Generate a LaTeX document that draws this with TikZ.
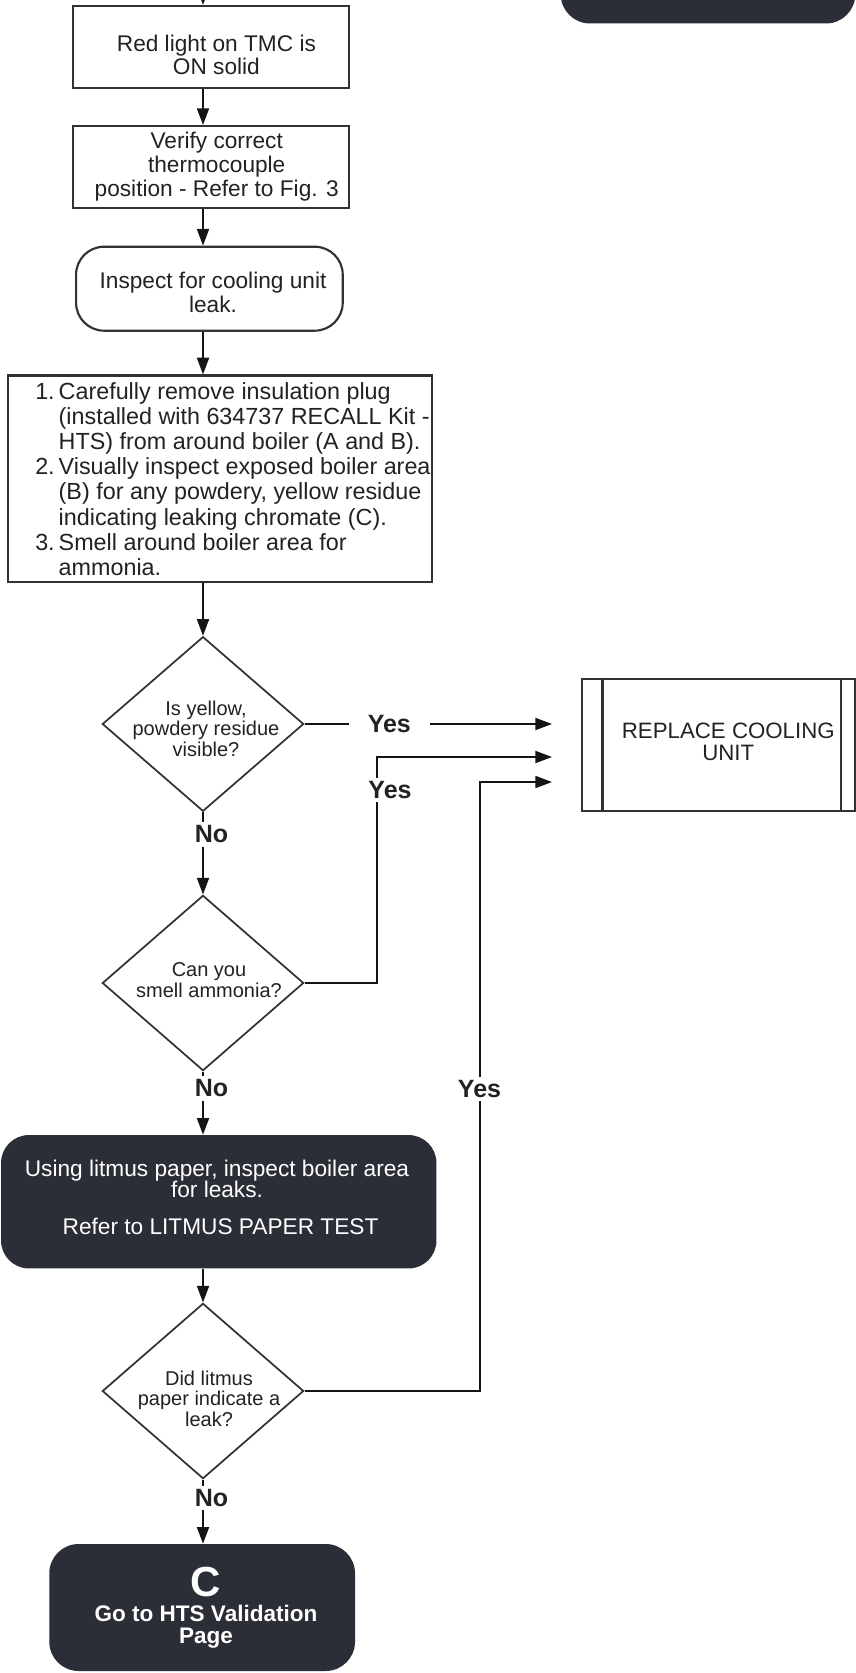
\documentclass[tikz,border=0pt]{standalone}
\usepackage{fontspec}
\setmainfont{Liberation Sans}
\usetikzlibrary{shapes.geometric,arrows.meta}
\definecolor{dkfill}{RGB}{43,46,54}
\definecolor{lncol}{RGB}{20,20,20}
\definecolor{bdcol}{RGB}{50,50,50}
\definecolor{txcol}{RGB}{34,34,34}
\newcommand\mlines[1]{\begin{tabular}[t]{@{}c@{}}#1\end{tabular}}
\begin{document}
\begin{tikzpicture}[x=0.75pt,y=-0.75pt,
  boxnode/.style={draw=bdcol, line width=1.6pt, fill=white, inner sep=0pt, rectangle},
  dianode/.style={draw=bdcol, line width=1.3pt, fill=white, shape=diamond, inner sep=0pt,
     minimum width=151pt, minimum height=131pt},
  darknode/.style={fill=dkfill, draw=none, inner sep=0pt, rectangle},
  txt/.style={inner sep=0pt, anchor=base, text=txcol},
  wtxt/.style={inner sep=0pt, anchor=base, text=white},
  arr/.style={draw=lncol, line width=1.4pt, -{Triangle[length=12.5pt,width=9pt]}},
  plain/.style={draw=lncol, line width=1.4pt},
  lbl/.style={fill=white, text=txcol, font=\bfseries\fontsize{18.75}{18.75}\selectfont, inner xsep=1pt, inner ysep=2.5pt}
]
\useasboundingbox (0,0) rectangle (856,1673);

% partial dark box at the top right
\node[darknode, rounded corners=22pt, minimum width=221pt, minimum height=48pt] (tr) at (708,-8.5) {};

% column coordinate
\coordinate (top) at (203,-30);

% boxes
\node[boxnode, minimum width=207pt, minimum height=61.5pt] (b1) at (211,47) {};
\node[txt, font=\fontsize{17}{17.25}\selectfont] (t1) at (216.4,51.5) {\mlines{Red light on TMC is\\ON solid}};

\node[boxnode, minimum width=207pt, minimum height=61.5pt] (b2) at (211,167) {};
\node[txt, font=\fontsize{17}{18.15}\selectfont] (t2) at (216.7,148.3) {\mlines{Verify correct\\thermocouple\\position - Refer to Fig. 3}};

\node[boxnode, rounded corners=21pt, minimum width=200pt, minimum height=63pt] (b3) at (209.4,288.7) {};
\node[txt, font=\fontsize{17}{17.5}\selectfont] (t3) at (213,288.7) {\mlines{Inspect for cooling unit\\leak.}};

\node[boxnode, minimum width=317.7pt, minimum height=155pt] (b4) at (220.2,478.8) {};
\node[txt, anchor=base west, font=\fontsize{17.5}{18.86}\selectfont] (t4) at (35,399.4) {\begin{tabular}[t]{@{}l@{\hspace{3pt}}l@{}}
1. & Carefully remove insulation plug\\
   & (installed with 634737 RECALL Kit -\\
   & HTS) from around boiler (A and B).\\
2. & Visually inspect exposed boiler area\\
   & (B) for any powdery, yellow residue\\
   & indicating leaking chromate (C).\\
3. & Smell around boiler area for\\
   & ammonia.
\end{tabular}};

% decisions
\node[dianode] (d1) at (203,724) {};
\node[txt, font=\fontsize{15}{15.4}\selectfont] (dt1) at (206,715) {\mlines{Is yellow,\\powdery residue\\visible?}};

\node[dianode, minimum height=131.5pt] (d2) at (203,983) {};
\node[txt, font=\fontsize{15}{15.45}\selectfont] (dt2) at (209,976.7) {\mlines{Can you\\smell ammonia?}};

\node[dianode, minimum height=131.5pt] (d3) at (203,1391) {};
\node[txt, font=\fontsize{15}{15.4}\selectfont] (dt3) at (209,1385) {\mlines{Did litmus\\paper indicate a\\leak?}};

% replace box
\node[boxnode, minimum width=205pt, minimum height=99pt] (rep) at (718.4,745) {};
\draw[draw=bdcol, line width=1.6pt] ([xshift=16.4pt]rep.north west) -- ([xshift=16.4pt]rep.south west);
\draw[draw=bdcol, line width=1.6pt] ([xshift=-11.3pt]rep.north east) -- ([xshift=-11.3pt]rep.south east);
\node[txt, font=\fontsize{16.7}{16.5}\selectfont] (rt) at (728.3,738.5) {\mlines{REPLACE COOLING\\UNIT}};

% dark litmus box
\node[darknode, rounded corners=21pt, minimum width=326.6pt, minimum height=100.1pt] (dk) at (218.75,1201.75) {};
\node[wtxt, font=\fontsize{17}{16.1}\selectfont] (dk1) at (217,1176) {Using litmus paper, inspect boiler area};
\node[wtxt, font=\fontsize{17}{16.1}\selectfont] (dk2) at (217,1197.5) {for leaks.};
\node[wtxt, font=\fontsize{17}{16.1}\selectfont] (dk3) at (220.5,1234) {Refer to LITMUS PAPER TEST};

% final box
\node[darknode, rounded corners=22pt, minimum width=229.3pt, minimum height=95.25pt] (fin) at (202.15,1607.5) {};
\node[wtxt, font=\bfseries\fontsize{31.5}{31.5}\selectfont] (fc) at (206,1596.7) {C};
\node[wtxt, font=\bfseries\fontsize{16.9}{16}\selectfont] (fg) at (206,1621.7) {Go to HTS Validation};
\node[wtxt, font=\bfseries\fontsize{16.9}{16}\selectfont] (fp) at (206,1643) {Page};

% coordinates for arrow ends
\coordinate (e1) at (552,724);
\coordinate (c2) at (377,757);
\coordinate (e2) at (552,757);
\coordinate (c3) at (480,782);
\coordinate (e3) at (552,782);

% connectors
\draw[arr] (top) -- (top |- b1.north);
\draw[arr] (b1.south -| top) -- (b2.north -| top);
\draw[arr] (b2.south -| top) -- (b3.north -| top);
\draw[arr] (b3.south -| top) -- (b4.north -| top);
\draw[arr] (b4.south -| d1.north) -- (d1.north);
\draw[arr] (d1.south) -- (d2.north);
\draw[arr] (d2.south) -- (dk.north -| d2.south);
\draw[arr] (dk.south -| d3.north) -- (d3.north);
\draw[arr] (d3.south) -- (fin.north -| d3.south);
\draw[arr] (d1.east) -- (e1);
\draw[arr] (d2.east) -| (c2) -- (e2);
\draw[arr] (d3.east) -| (c3) -- (e3);

% labels
\node[lbl, inner xsep=14.25pt] (y1) at (389.3,724) {Yes};
\node[lbl] (y2) at (390,790) {Yes};
\node[lbl] (y3) at (479.5,1089) {Yes};
\node[lbl] (n1) at (211.5,834.5) {No};
\node[lbl] (n2) at (211.5,1088.5) {No};
\node[lbl] (n3) at (211.5,1498) {No};
\end{tikzpicture}
\end{document}
